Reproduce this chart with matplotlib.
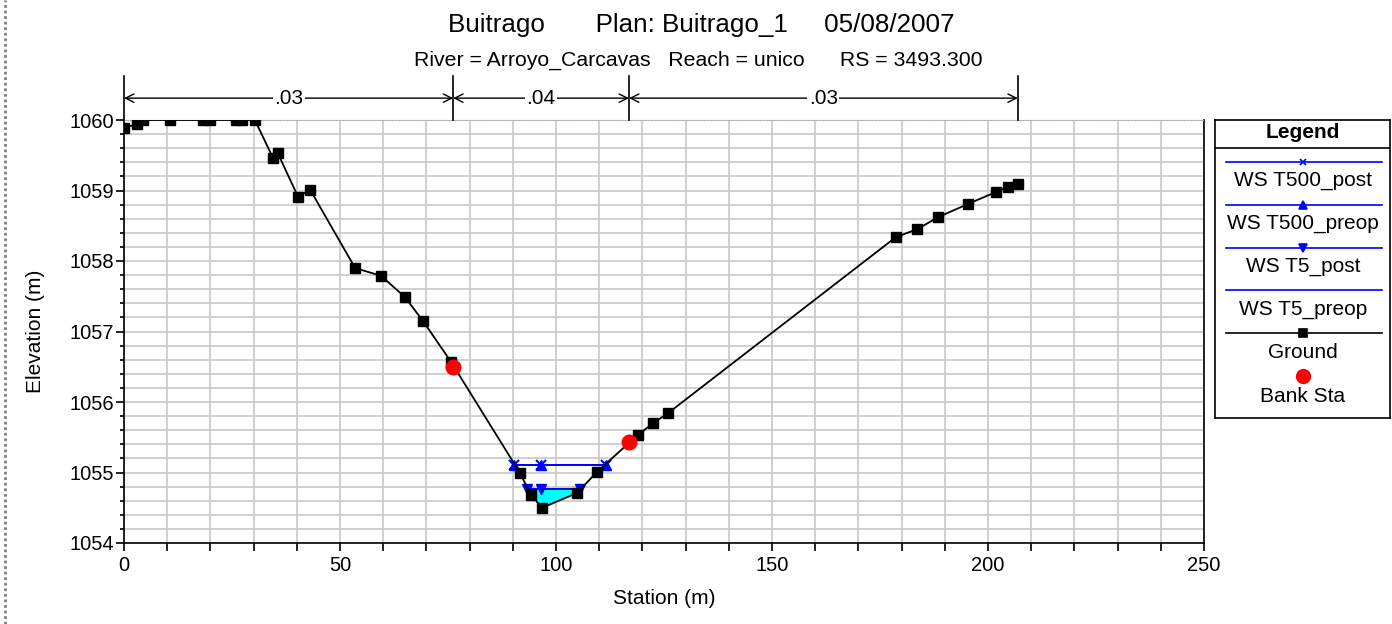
import numpy as np
import matplotlib
matplotlib.use("Agg")
import matplotlib.pyplot as plt
from matplotlib.lines import Line2D
from matplotlib.ticker import MultipleLocator

plt.rcParams['font.family'] = ['Liberation Sans', 'DejaVu Sans']

# ground profile (station, elevation)
ground_x = [0, 3.0, 4.4, 10.6, 18.3, 19.9, 25.9, 27.3, 30.3, 34.5, 35.6, 40.3, 43.1,
            53.5, 59.5, 65.0, 69.2, 75.7, 91.7, 94.2, 96.8, 104.9, 109.5, 118.9,
            122.5, 125.9, 178.7, 183.6, 188.4, 195.4, 201.9, 204.6, 206.9]
ground_y = [1059.89, 1059.94, 1060.0, 1060.0, 1060.0, 1060.0, 1060.0, 1060.0, 1060.0,
            1059.46, 1059.53, 1058.91, 1059.01, 1057.90, 1057.79, 1057.49, 1057.15,
            1056.57, 1054.99, 1054.68, 1054.50, 1054.71, 1055.01, 1055.53, 1055.70,
            1055.84, 1058.34, 1058.45, 1058.62, 1058.81, 1058.98, 1059.05, 1059.09]

bank_x = [76.2, 116.9]
bank_y = [1056.50, 1055.43]

# water surfaces
ws_t500_x = [90.3, 96.5, 111.6]
ws_t500 = 1055.11
ws_t5_x = [93.3, 96.5, 105.6]
ws_t5 = 1054.77

# manning n regions
n_breaks = [0, 76.2, 116.9, 206.9]
n_values = ['.03', '.04', '.03']

fig = plt.figure(figsize=(13.92, 6.24), dpi=100)
ax = fig.add_axes([124 / 1392, 1 - 543 / 624, 1080 / 1392, 423 / 624])

# fill water for lowest profile
xf = np.linspace(ws_t5_x[0], ws_t5_x[-1], 200)
gf = np.interp(xf, ground_x, ground_y)
ax.fill_between(xf, gf, ws_t5, where=gf < ws_t5, color='cyan', zorder=2, lw=0)

# water surface lines
ax.plot(ws_t500_x, [ws_t500] * 3, color='blue', lw=1.3, marker='x', ms=7, mew=1.5, zorder=3)
ax.plot(ws_t500_x, [ws_t500] * 3, color='blue', lw=1.3, marker='^', ms=7, zorder=3)
ax.plot(ws_t5_x, [ws_t5] * 3, color='blue', lw=1.3, marker='v', ms=7, zorder=3)
ax.plot(ws_t5_x, [ws_t5] * 3, color='blue', lw=1.3, zorder=3)

ax.plot(ground_x, ground_y, color='black', lw=1.3, marker='s', ms=7, zorder=4)
ax.plot(bank_x, bank_y, 'o', color='red', ms=10.5, zorder=5)

ax.set_xlim(0, 250)
ax.set_ylim(1054, 1060)
ax.xaxis.set_major_locator(MultipleLocator(50))
ax.xaxis.set_minor_locator(MultipleLocator(10))
ax.yaxis.set_major_locator(MultipleLocator(1))
ax.yaxis.set_minor_locator(MultipleLocator(0.2))
ax.grid(True, which='both', color='#c8c8c8', lw=1.2, zorder=0)
ax.set_axisbelow(True)
ax.tick_params(which='both', direction='out', labelsize=14.5, width=1.2)
ax.tick_params(axis='x', which='both', length=6)
ax.tick_params(axis='y', which='major', length=6, pad=1)
ax.tick_params(axis='y', which='minor', length=3)
ax.yaxis.set_major_formatter(plt.FuncFormatter(lambda v, p: f'{v:.0f}'))
ax.spines['top'].set_color('#b0b0b0')
ax.spines['top'].set_linestyle(':')
for s in ['left', 'bottom', 'right']:
    ax.spines[s].set_linewidth(1.2)

ax.set_xlabel('Station (m)', fontsize=15, labelpad=10)
ax.set_ylabel('Elevation (m)', fontsize=15, labelpad=18)

# manning n annotations above plot
y_arrow = 1060.31
for xb in n_breaks:
    ax.plot([xb, xb], [1060, 1060.62], color='black', lw=1.2, clip_on=False, zorder=6)
for i, n in enumerate(n_values):
    x0, x1 = n_breaks[i], n_breaks[i + 1]
    ax.annotate('', xy=(x0, y_arrow), xytext=(x1, y_arrow), annotation_clip=False,
                arrowprops=dict(arrowstyle='<->', color='black', lw=1,
                                shrinkA=0, shrinkB=0, mutation_scale=15))
    ax.text((x0 + x1) / 2, y_arrow, n, ha='center', va='center', fontsize=15,
            bbox=dict(facecolor='white', edgecolor='none', pad=1), clip_on=False, zorder=7)

fig.text(0.5035, 1 - 25 / 624, 'Buitrago       Plan: Buitrago_1     05/08/2007',
         ha='center', va='center', fontsize=18.7)
fig.text(0.5015, 1 - 60 / 624, 'River = Arroyo_Carcavas   Reach = unico      RS = 3493.300',
         ha='center', va='center', fontsize=15.3)

# legend box
lg = fig.add_axes([1215 / 1392, 1 - 418 / 624, 175 / 1392, 298 / 624])
lg.set_xlim(0, 175)
lg.set_ylim(298, 0)
lg.set_xticks([])
lg.set_yticks([])
for s in lg.spines.values():
    s.set_linewidth(1.2)
lg.text(87.5, 13, 'Legend', ha='center', va='center', fontsize=15, fontweight='bold')
lg.plot([0, 175], [28, 28], color='black', lw=1.2)
entries = [('WS T500_post', 'blue', 'x'), ('WS T500_preop', 'blue', '^'),
           ('WS T5_post', 'blue', 'v'), ('WS T5_preop', 'blue', None),
           ('Ground', 'black', 's')]
for i, (lab, c, m) in enumerate(entries):
    yl = 42 + i * 42.8
    lg.plot([11, 167], [yl, yl], color=c, lw=1.2)
    if m:
        lg.plot([88], [yl], marker=m, color=c, ms=6 if m != 'x' else 5, mew=1.2)
    lg.text(88, yl + 19, lab, ha='center', va='center', fontsize=15)
lg.plot([88], [256], 'o', color='red', ms=10)
lg.text(88, 276, 'Bank Sta', ha='center', va='center', fontsize=15)

# dotted border at left edge
fig.add_artist(Line2D([5 / 1392, 5 / 1392], [0, 1], color='#808080', lw=2, ls=(0, (1, 1))))

fig.savefig('out.png', dpi=100)
